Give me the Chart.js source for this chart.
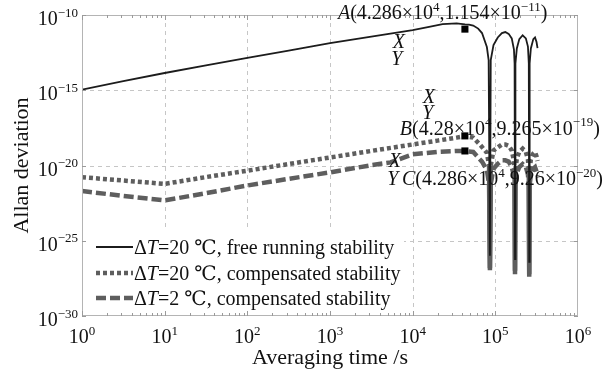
<!DOCTYPE html>
<html>
<head>
<meta charset="utf-8">
<script src="https://cdn.jsdelivr.net/npm/chart.js@4.4.1/dist/chart.umd.min.js"></script>
<style>
  html, body { margin: 0; padding: 0; background: #fff; }
  canvas { display: block; }
</style>
</head>
<body>
<canvas id="allan" width="616" height="375"></canvas>
<script>
// values (tau in s, Allan deviation)
const tauFree = [1, 3.16, 10, 31.6, 100, 316, 1000, 3160, 1e4, 1.58e4, 2.3e4, 3.4e4, 4.3e4, 4.8e4, 5.4e4, 6.2e4, 6.9e4, 7.9e4, 8.3e4, 8.6e4, 8.8e4, 9.5e4,
    1.07e5, 1.2e5, 1.32e5, 1.45e5, 1.58e5, 1.68e5, 1.71e5, 1.73e5, 1.75e5, 1.82e5, 1.95e5, 2.14e5, 2.34e5, 2.48e5, 2.54e5, 2.57e5, 2.6e5, 2.69e5, 2.88e5, 3.02e5, 3.15e5, 3.24e5];
const sigmaFree = [1.1e-15, 4e-15, 1.4e-14, 4.5e-14, 1.4e-13, 4.3e-13, 1.35e-12, 3.7e-12, 1.0e-11, 1.65e-11, 2.5e-11, 2.8e-11, 2.4e-11, 2.3e-11, 2.0e-11, 1.25e-11, 6.3e-12, 7.4e-13, 1.0e-13, 1e-26, 1.0e-13, 1.0e-12,
    3.2e-12, 6.3e-12, 7.4e-12, 5.6e-12, 2.8e-12, 5e-13, 6e-14, 6e-27, 6e-14, 6e-13, 2.5e-12, 4.5e-12, 2.8e-12, 8e-13, 6e-14, 4e-27, 6e-14, 6e-13, 2.5e-12, 3.2e-12, 1.6e-12, 6.3e-13];

const tauComp20 = [1, 3.16, 10, 31.6, 100, 316, 1000, 3160, 1e4, 2e4, 3.4e4, 4.3e4, 5.4e4, 6.5e4, 7.9e4, 8.4e4, 8.6e4, 8.8e4, 9.5e4,
    1.07e5, 1.2e5, 1.32e5, 1.45e5, 1.58e5, 1.68e5, 1.71e5, 1.73e5, 1.75e5, 1.82e5, 1.95e5, 2.14e5, 2.34e5, 2.48e5, 2.54e5, 2.57e5, 2.6e5, 2.69e5, 2.88e5, 3.02e5, 3.15e5, 3.24e5];
const sigmaComp20 = [1.66e-21, 1.0e-21, 6.0e-22, 1.7e-21, 4.5e-21, 1.25e-20, 3.4e-20, 9.3e-20, 2.5e-19, 4.5e-19, 7.1e-19, 8.9e-19, 7.1e-19, 2.5e-19, 7e-20, 1e-20, 1.1e-27, 1e-20, 1e-19,
    1.6e-19, 2.5e-19, 2.5e-19, 2e-19, 1e-19, 2e-20, 5e-21, 6e-28, 5e-21, 3e-20, 8e-20, 1.3e-19, 8e-20, 2.5e-20, 5e-21, 4e-28, 5e-21, 2.5e-20, 6.3e-20, 8e-20, 4e-20, 2e-20];

const tauComp2 = [1, 3.16, 10, 31.6, 100, 316, 1000, 3160, 5400, 1e4, 2e4, 3.4e4, 4.3e4, 5.4e4, 6.9e4, 7.9e4, 8.4e4, 8.6e4, 8.8e4, 9.5e4,
    1.07e5, 1.2e5, 1.32e5, 1.45e5, 1.58e5, 1.68e5, 1.71e5, 1.73e5, 1.75e5, 1.82e5, 1.95e5, 2.14e5, 2.34e5, 2.48e5, 2.54e5, 2.57e5, 2.6e5, 2.69e5, 2.88e5, 3.02e5, 3.15e5, 3.24e5];
const sigmaComp2 = [2.0e-22, 9.5e-23, 4.8e-23, 1.45e-22, 4.7e-22, 1.3e-21, 3.5e-21, 1.05e-20, 1.6e-20, 5.5e-20, 8.1e-20, 9.3e-20, 9.3e-20, 7.9e-20, 1.8e-20, 5e-21, 6e-22, 1.5e-27, 6e-22, 6e-21,
    1.3e-20, 2.2e-20, 2.2e-20, 1.8e-20, 8e-21, 2e-21, 5e-22, 1e-27, 5e-22, 3e-21, 8e-21, 1.25e-20, 8e-21, 2.5e-21, 5e-22, 6e-28, 5e-22, 2.5e-21, 6.3e-21, 7.9e-21, 4e-21, 2e-21];

const markerTau = [4.286e4, 4.28e4, 4.286e4];
const markerSigma = [1.154e-11, 9.265e-19, 9.26e-20];

const xTickValues = [1, 10, 100, 1e3, 1e4, 1e5, 1e6];
const xTickExp = ['0', '1', '2', '3', '4', '5', '6'];
const yTickValues = [1e-30, 1e-25, 1e-20, 1e-15, 1e-10];
const yTickExp = ['\u221230', '\u221225', '\u221220', '\u221215', '\u221210'];

const legendLabels = [
    'ΔT=20 ℃, free running stability',
    'ΔT=20 ℃, compensated stability',
    'ΔT=2 ℃, compensated stability'
];

// label parts: [text, style]  i = italic, s = superscript
const markerLabels = [
    [['A', 'i'], ['(4.286×10', ''], ['4', 's'], [',1.154×10', ''], ['\u221211', 's'], [')', '']],
    [['B', 'i'], ['(4.28×10', ''], ['4', 's'], [',9.265×10', ''], ['\u221219', 's'], [')', '']],
    [['C', 'i'], ['(4.286×10', ''], ['4', 's'], [',9.26×10', ''], ['\u221220', 's'], [')', '']]
];

const FONT = "'Liberation Serif', 'DejaVu Serif', serif";

function punten(tau, sigma) {
    return tau.map((t, i) => ({ x: t, y: sigma[i] }));
}

function fontFor(stijl, size) {
    if (stijl === 's') return Math.round(size * 0.65) + 'px ' + FONT;
    if (stijl === 'i') return 'italic ' + size + 'px ' + FONT;
    return size + 'px ' + FONT;
}

function rich(ctx, parts, x, y, size, align) {
    let breedte = 0;
    const maten = parts.map(([t, s]) => {
        ctx.font = fontFor(s, size);
        const w = ctx.measureText(t).width;
        breedte += w;
        return w;
    });
    let cx = align === 'center' ? x - breedte / 2 : (align === 'right' ? x - breedte : x);
    parts.forEach(([t, s], i) => {
        ctx.font = fontFor(s, size);
        ctx.fillText(t, cx, s === 's' ? y - size * 0.42 : y);
        cx += maten[i];
    });
}

// the deep notches are drawn solid, the rest with the dataset dash
function notchDash(dash) {
    return c => (c.p0.parsed.y < 1e-24 || c.p1.parsed.y < 1e-24) ? [] : dash;
}

const decor = {
    id: 'decor',
    beforeDraw(chart) {
        const ctx = chart.ctx;
        ctx.save();
        ctx.fillStyle = '#ffffff';
        ctx.fillRect(0, 0, chart.width, chart.height);
        ctx.restore();
    },
    beforeDatasetsDraw(chart) {
        const ctx = chart.ctx;
        const a = chart.chartArea;
        const xs = chart.scales.x;
        const ys = chart.scales.y;
        ctx.save();
        ctx.strokeStyle = '#c6c6c6';
        ctx.lineWidth = 1;
        ctx.setLineDash([4, 4]);
        ctx.beginPath();
        xTickValues.slice(1, -1).forEach(v => {
            const px = Math.round(xs.getPixelForValue(v)) + 0.5;
            ctx.moveTo(px, a.top); ctx.lineTo(px, a.bottom);
        });
        yTickValues.slice(1, -1).forEach(v => {
            const py = Math.round(ys.getPixelForValue(v)) + 0.5;
            ctx.moveTo(a.left, py); ctx.lineTo(a.right, py);
        });
        ctx.stroke();
        ctx.restore();
    },
    afterDatasetsDraw(chart) {
        const ctx = chart.ctx;
        const a = chart.chartArea;
        const xs = chart.scales.x;
        const ys = chart.scales.y;
        ctx.save();

        // legend box inside the axes
        ctx.fillStyle = '#ffffff';
        ctx.fillRect(a.left + 2, a.bottom - 88, 320, 84);
        const rijen = [a.bottom - 69, a.bottom - 43, a.bottom - 18];
        [1, 2, 3].forEach((di, r) => {
            const ds = chart.data.datasets[di];
            ctx.strokeStyle = ds.borderColor;
            ctx.lineWidth = ds.borderWidth;
            ctx.setLineDash(ds.borderDash || []);
            ctx.beginPath();
            ctx.moveTo(a.left + 14, rijen[r]);
            ctx.lineTo(a.left + 51, rijen[r]);
            ctx.stroke();
            ctx.setLineDash([]);
            ctx.fillStyle = '#111';
            const lab = ds.label;
            const k = lab.indexOf('T');
            rich(ctx, [[lab.slice(0, k), ''], ['T', 'i'], [lab.slice(k + 1), '']], a.left + 52, rijen[r] + 7, 20, 'left');
        });

        // frame
        ctx.strokeStyle = '#b4b4b4';
        ctx.lineWidth = 1;
        ctx.strokeRect(Math.round(a.left) + 0.5, Math.round(a.top) + 0.5, Math.round(a.right - a.left) - 1, Math.round(a.bottom - a.top) - 1);

        // inward ticks
        ctx.strokeStyle = '#9a9a9a';
        ctx.beginPath();
        xTickValues.slice(0, -1).forEach(d => {
            for (let m = 1; m <= 9; m++) {
                const px = Math.round(xs.getPixelForValue(d * m)) + 0.5;
                const len = m === 1 ? 5 : 3;
                ctx.moveTo(px, a.bottom); ctx.lineTo(px, a.bottom - len);
                ctx.moveTo(px, a.top); ctx.lineTo(px, a.top + len);
            }
        });
        yTickValues.forEach(v => {
            const py = Math.round(ys.getPixelForValue(v)) + 0.5;
            ctx.moveTo(a.left, py); ctx.lineTo(a.left + 4, py);
            ctx.moveTo(a.right, py); ctx.lineTo(a.right - 4, py);
        });
        ctx.stroke();

        // tick labels
        ctx.fillStyle = '#111';
        ctx.textBaseline = 'alphabetic';
        xTickValues.forEach((v, i) => {
            rich(ctx, [['10', ''], [xTickExp[i], 's']], xs.getPixelForValue(v), a.bottom + 27, 20, 'center');
        });
        yTickValues.forEach((v, i) => {
            rich(ctx, [['10', ''], [yTickExp[i], 's']], a.left - 4, ys.getPixelForValue(v) + 10, 20, 'right');
        });

        // axis titles
        ctx.font = '22px ' + FONT;
        ctx.textAlign = 'center';
        ctx.fillText('Averaging time /s', (a.left + a.right) / 2, a.bottom + 48);
        ctx.save();
        ctx.translate(28, (a.top + a.bottom) / 2);
        ctx.rotate(-Math.PI / 2);
        ctx.fillText('Allan deviation', 0, 0);
        ctx.restore();
        ctx.textAlign = 'left';

        // data tip labels next to A, B, C
        const mp = markerTau.map((t, i) => ({ x: xs.getPixelForValue(t), y: ys.getPixelForValue(markerSigma[i]) }));
        rich(ctx, markerLabels[0], mp[0].x - 127, mp[0].y - 10, 20, 'left');
        rich(ctx, [['X', 'i']], mp[0].x - 66, mp[0].y + 19, 20, 'center');
        rich(ctx, [['Y', 'i']], mp[0].x - 68, mp[0].y + 36, 20, 'center');
        rich(ctx, markerLabels[1], mp[1].x - 65, mp[1].y - 1, 20, 'left');
        rich(ctx, [['X', 'i']], mp[1].x - 36, mp[1].y - 33, 20, 'center');
        rich(ctx, [['Y', 'i']], mp[1].x - 37, mp[1].y - 17, 20, 'center');
        rich(ctx, markerLabels[2], mp[2].x - 63, mp[2].y + 34, 20, 'left');
        rich(ctx, [['X', 'i']], mp[2].x - 70, mp[2].y + 16, 20, 'center');
        rich(ctx, [['Y', 'i']], mp[2].x - 72, mp[2].y + 34, 20, 'center');

        ctx.restore();
    }
};

const ctx = document.getElementById('allan').getContext('2d');
new Chart(ctx, {
    type: 'line',
    data: {
        datasets: [
            {
                label: 'points',
                data: punten(markerTau, markerSigma),
                showLine: false,
                pointStyle: 'rect',
                pointRadius: 5,
                pointBorderWidth: 0,
                pointBackgroundColor: '#000',
                borderColor: '#000'
            },
            {
                label: legendLabels[0],
                data: punten(tauFree, sigmaFree),
                borderColor: '#1c1c1c',
                borderWidth: 1.8,
                pointRadius: 0,
                tension: 0
            },
            {
                label: legendLabels[1],
                data: punten(tauComp20, sigmaComp20),
                borderColor: '#5e5e5e',
                borderWidth: 4.5,
                borderDash: [4, 3],
                segment: { borderDash: notchDash([4, 3]) },
                pointRadius: 0,
                tension: 0
            },
            {
                label: legendLabels[2],
                data: punten(tauComp2, sigmaComp2),
                borderColor: '#5e5e5e',
                borderWidth: 4.5,
                borderDash: [10, 4],
                segment: { borderDash: notchDash([10, 4]) },
                pointRadius: 0,
                tension: 0
            }
        ]
    },
    options: {
        responsive: false,
        animation: false,
        devicePixelRatio: 1,
        layout: { padding: { left: 82, right: 38, top: 15, bottom: 59 } },
        plugins: { legend: { display: false }, tooltip: { enabled: false } },
        scales: {
            x: {
                type: 'logarithmic',
                min: 1,
                max: 1e6,
                afterBuildTicks: s => { s.ticks = xTickValues.map(v => ({ value: v })); },
                ticks: { display: false },
                grid: { drawTicks: false, color: 'rgba(0,0,0,0)' },
                border: { display: false }
            },
            y: {
                type: 'logarithmic',
                min: 1e-30,
                max: 1e-10,
                afterBuildTicks: s => { s.ticks = yTickValues.map(v => ({ value: v })); },
                ticks: { display: false },
                grid: { drawTicks: false, color: 'rgba(0,0,0,0)' },
                border: { display: false }
            }
        }
    },
    plugins: [decor]
});
</script>
</body>
</html>
